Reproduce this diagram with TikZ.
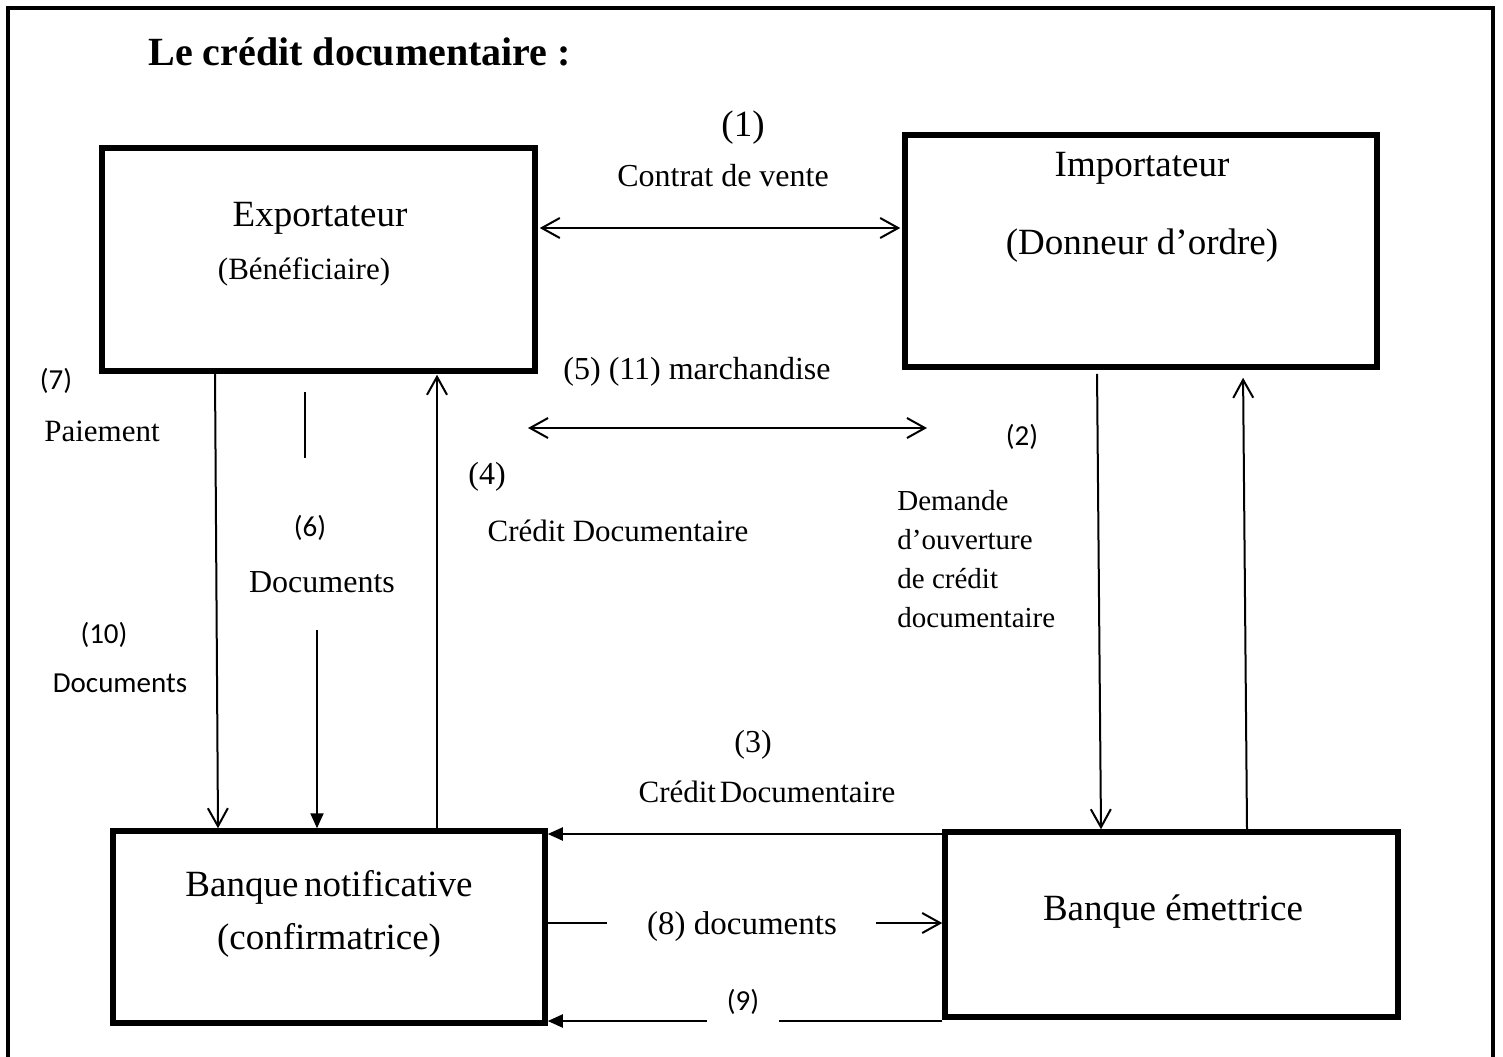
\documentclass[tikz,border=0pt]{standalone}
\usepackage{fontspec}
\setmainfont{Liberation Serif}
\newfontfamily\calib{Carlito}
\usetikzlibrary{arrows.meta}
\begin{document}
\begin{tikzpicture}[x=0.5pt,y=-0.5pt,
  box/.style={draw,line width=2.75pt,inner sep=0pt},
  txt/.style={inner sep=0pt},
  big/.style={txt,font=\fontsize{18.5pt}{22pt}\selectfont},
  mid/.style={txt,font=\fontsize{16pt}{19pt}\selectfont},
  sml/.style={txt,font=\fontsize{15.5pt}{18pt}\selectfont},
  cal/.style={txt,font=\calib\fontsize{14.5pt}{17pt}\selectfont},
  link/.style={line width=1pt},
  vhead/.style={link,-{Straight Barb[length=9pt,width=10pt,line width=1pt]}},
  vboth/.style={link,{Straight Barb[length=9pt,width=10pt,line width=1pt]}-{Straight Barb[length=9pt,width=10pt,line width=1pt]}},
  thead/.style={link,-{Triangle[length=7.5pt,width=6.5pt]}}]
\useasboundingbox (0,0) rectangle (1503,1056);
\clip (0,0) rectangle (1503,1056);

% outer frame, open at the bottom
\draw[line width=2.25pt] (8,1070) -- (8,8) -- (1493,8) -- (1493,1070);

% title
\node[txt,anchor=west,font=\bfseries\fontsize{20pt}{24pt}\selectfont] (title) at (148,52) {Le crédit documentaire :};

% the four parties
\node[box,minimum width=216.5pt,minimum height=111.5pt] (exp) at (318.5,259.5) {};
\node[box,minimum width=236pt,minimum height=116pt] (imp) at (1141,251) {};
\node[box,minimum width=216pt,minimum height=96pt] (bn) at (329,927) {};
\node[box,minimum width=226.5pt,minimum height=92.5pt] (be) at (1171.5,924.5) {};

\node[big] (expA) at (320,218) {Exportateur};
\node[sml] (expB) at (304,272) {(Bénéficiaire)};
\node[big] (impA) at (1142,168) {Importateur};
\node[big] (impB) at (1142,246) {(Donneur d’ordre)};
\node[big] (bnA) at (329,887) {Banque\hspace{0.15em}notificative};
\node[big] (bnB) at (329,940) {(confirmatrice)};
\node[big] (beA) at (1173,912) {Banque émettrice};

% helper columns and rows
\coordinate (x215) at (215,0);
\coordinate (x218) at (218,0);
\coordinate (x317) at (317,0);
\coordinate (x437) at (437,0);
\coordinate (x1097) at (1097,0);
\coordinate (x1101) at (1101,0);
\coordinate (x1243) at (1243,0);
\coordinate (x1247) at (1247,0);
\coordinate (y228) at (0,228);
\coordinate (y834) at (0,834);
\coordinate (y923) at (0,923);
\coordinate (y1021) at (0,1021);

% (1) sales contract
\draw[vboth,shorten <=1pt,shorten >=1pt] (exp.east |- y228) -- (imp.west |- y228);
\node[big] (l1) at (743,128) {(1)};
\node[mid] (l1b) at (723,176) {Contrat de vente};

% (5) (11) goods
\coordinate (mL) at (528,428);
\coordinate (mR) at (927,428);
\draw[vboth] (mL) -- (mR);
\node[mid] (l5) at (697,372) {(5) (11) marchandise};

% (7) payment / (10) documents
\draw[vhead] (exp.south -| x215) -- (bn.north -| x218);
\node[cal] (l7) at (56,381) {(7)};
\node[sml] (l7b) at (102,431) {Paiement};
\node[cal] (l10) at (104,635) {(10)};
\node[cal] (l10b) at (120,683) {Documents};

% (6) documents
\coordinate (d6a) at (305,392);
\coordinate (d6b) at (305,458);
\coordinate (d6c) at (317,630);
\draw[link] (d6a) -- (d6b);
\draw[thead] (d6c) -- (bn.north -| x317);
\node[cal] (l6) at (310,528) {(6)};
\node[mid] (l6b) at (322,582) {Documents};

% (4) documentary credit
\draw[vhead,shorten >=0.5pt] (bn.north -| x437) -- (exp.south -| x437);
\node[mid] (l4) at (487,477) {(4)};
\node[sml] (l4b) at (618,531) {Crédit Documentaire};

% (2) opening request
\draw[vhead,shorten <=2pt] (imp.south -| x1097) -- (be.north -| x1101);
\draw[vhead,shorten >=4pt] (be.north -| x1247) -- (imp.south -| x1243);
\node[cal] (l2) at (1022,437) {(2)};
\node[txt,anchor=north west,align=left,font=\fontsize{14.5pt}{19.5pt}\selectfont] (l2b) at (897,490)
  {Demande\\d’ouverture\\de crédit\\documentaire};

% (3) documentary credit
\draw[thead] (be.west |- y834) -- (bn.east |- y834);
\node[mid] (l3) at (753,745) {(3)};
\node[sml] (l3b) at (767,792) {Crédit\hspace{0.12em}Documentaire};

% (8) documents
\coordinate (d8a) at (607,923);
\coordinate (d8b) at (876,923);
\draw[link] (bn.east |- y923) -- (d8a);
\draw[vhead] (d8b) -- (be.west |- y923);
\node[txt,font=\fontsize{16.5pt}{19pt}\selectfont] (l8) at (742,927) {(8) documents};

% (9)
\coordinate (d9a) at (779,1021);
\coordinate (d9b) at (707,1021);
\draw[link] (be.west |- y1021) -- (d9a);
\draw[thead] (d9b) -- (bn.east |- y1021);
\node[cal] (l9) at (743,1002) {(9)};
\end{tikzpicture}
\end{document}
